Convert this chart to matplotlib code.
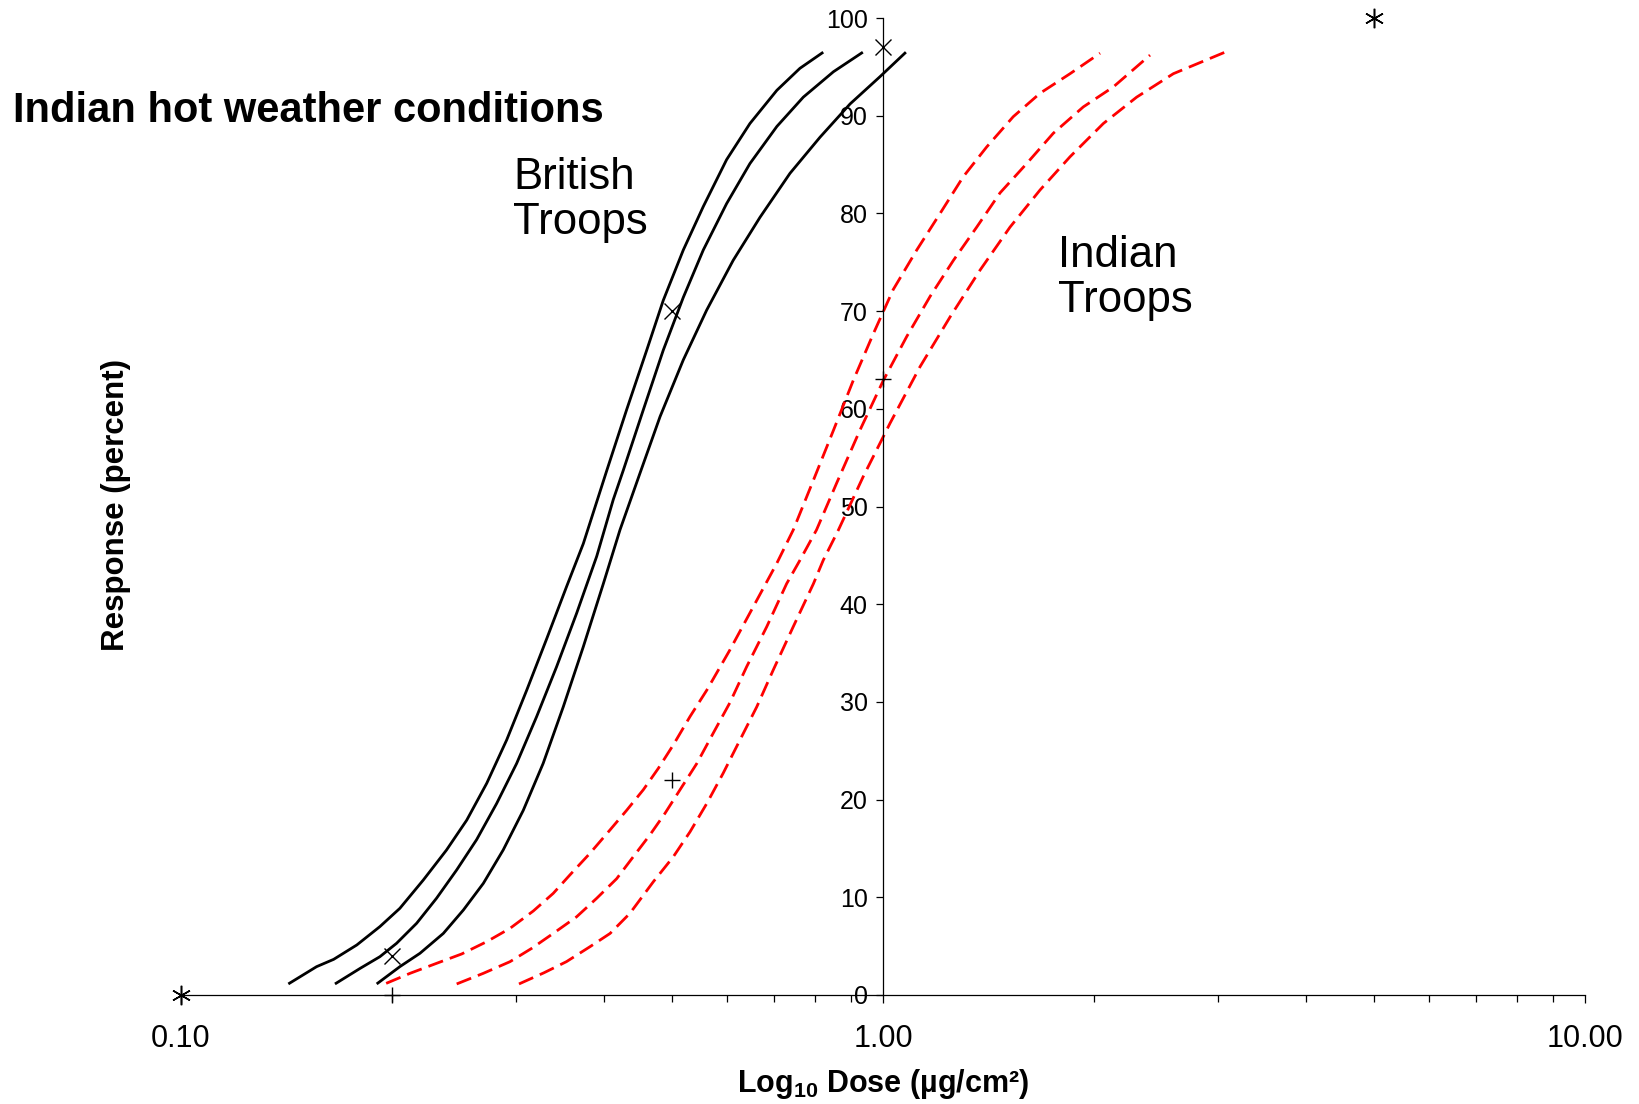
import matplotlib
matplotlib.use('Agg')
import matplotlib.pyplot as plt
from matplotlib.ticker import FixedLocator, NullFormatter, LogLocator

plt.rcParams['font.family'] = ['Liberation Sans', 'DejaVu Sans']
plt.rcParams['mathtext.fontset'] = 'custom'
plt.rcParams['mathtext.rm'] = 'Liberation Sans'
plt.rcParams['mathtext.bf'] = 'Liberation Sans:bold'

# British troops - three fitted curves
brit_lo_x = [0.1422, 0.156, 0.165, 0.178, 0.192, 0.205, 0.2214, 0.2389, 0.2553, 0.2726, 0.291,
             0.3108, 0.332, 0.3542, 0.3742, 0.4042, 0.4313, 0.4607, 0.4864, 0.5194, 0.5546,
             0.5987, 0.6463, 0.706, 0.7615, 0.822]
brit_lo_y = [1.13, 2.9, 3.65, 5.12, 7.0, 8.87, 11.77, 14.84, 17.9, 21.67, 26.1,
             31.2, 36.5, 41.8, 46.2, 53.7, 59.9, 66.0, 71.1, 76.25, 80.7,
             85.5, 89.2, 92.6, 94.85, 96.5]
brit_mid_x = [0.1657, 0.18, 0.192, 0.2028, 0.2166, 0.2312, 0.247, 0.2637, 0.2816, 0.3007, 0.3211,
              0.3428, 0.3662, 0.391, 0.4128, 0.4266, 0.4556, 0.4864, 0.5194, 0.5546, 0.5987,
              0.6463, 0.706, 0.77, 0.85, 0.936]
brit_mid_y = [1.13, 2.73, 3.92, 5.29, 7.34, 9.9, 12.8, 15.9, 19.6, 23.7, 28.5,
              33.6, 39.1, 44.9, 50.7, 53.7, 59.9, 66.0, 71.4, 76.25, 81.0,
              85.1, 88.9, 91.9, 94.5, 96.5]
brit_hi_x = [0.19, 0.205, 0.219, 0.2364, 0.2525, 0.2696, 0.2877, 0.3073, 0.328, 0.3504, 0.3742,
             0.3996, 0.422, 0.4506, 0.4813, 0.5194, 0.5608, 0.6118, 0.668, 0.737, 0.8134,
             0.8975, 0.990, 1.078]
brit_hi_y = [1.13, 2.9, 4.27, 6.3, 8.7, 11.43, 14.84, 18.9, 23.7, 29.5, 35.65,
             42.1, 47.6, 53.4, 59.2, 65.0, 70.1, 75.2, 79.6, 84.1, 87.8,
             91.2, 93.99, 96.5]

# Indian troops - three fitted curves
ind_lo_x = [0.196, 0.212, 0.2312, 0.2511, 0.2726, 0.2942, 0.3176, 0.339, 0.358, 0.3824, 0.4085,
            0.4313, 0.4555, 0.4786, 0.5027, 0.531, 0.561, 0.605, 0.653, 0.706, 0.745,
            0.796, 0.85, 0.907, 0.969, 1.034, 1.117, 1.206, 1.301, 1.405, 1.533,
            1.674, 1.847, 2.038]
ind_lo_y = [1.19, 2.22, 3.24, 4.2, 5.46, 6.82, 8.6, 10.4, 12.28, 14.5, 16.9,
            18.9, 21.0, 23.2, 25.6, 28.5, 31.2, 35.3, 39.7, 44.2, 47.6,
            52.7, 57.8, 62.9, 67.7, 72.2, 76.25, 80.0, 83.75, 86.8, 89.9,
            92.3, 94.3, 96.4]
ind_mid_x = [0.247, 0.2696, 0.2942, 0.316, 0.339, 0.366, 0.391, 0.4174, 0.4408, 0.4657, 0.4892,
             0.5138, 0.543, 0.573, 0.605, 0.6394, 0.683, 0.729, 0.7615, 0.804, 0.859,
             0.927, 1.001, 1.081, 1.167, 1.26, 1.36, 1.468, 1.602, 1.748, 1.929,
             2.129, 2.401]
ind_mid_y = [1.13, 2.22, 3.41, 4.78, 6.3, 8.0, 9.9, 11.9, 14.15, 16.4, 18.6,
             21.0, 23.7, 26.8, 29.9, 33.6, 37.7, 42.1, 44.5, 47.6, 52.4,
             57.8, 62.9, 67.4, 71.5, 75.2, 78.6, 82.1, 85.1, 88.2, 90.9,
             92.95, 96.2]
ind_hi_x = [0.303, 0.329, 0.354, 0.3824, 0.4085, 0.436, 0.4709, 0.5027, 0.531, 0.561, 0.592,
            0.6255, 0.661, 0.698, 0.745, 0.796, 0.822, 0.864, 0.937, 1.023, 1.129,
            1.246, 1.375, 1.517, 1.674, 1.847, 2.06, 2.298, 2.592, 3.07]
ind_hi_y = [1.13, 2.28, 3.41, 4.94, 6.3, 8.36, 11.6, 14.15, 16.7, 19.6, 22.7,
            26.1, 29.5, 33.3, 37.7, 42.1, 44.5, 47.6, 53.05, 58.5, 64.3,
            69.4, 74.2, 78.6, 82.4, 85.8, 89.2, 91.9, 94.3, 96.5]

# observed points
star_x = [0.1, 5.0]
star_y = [0, 100]
cross_x = [0.2, 0.5, 1.0]
cross_y = [4, 70, 97]
plus_x = [0.2, 0.5, 1.0]
plus_y = [0, 22, 63]

fig = plt.figure(figsize=(16.4, 11.04), dpi=100)
ax = fig.add_axes([181 / 1640, 1 - 995 / 1104, (1585 - 181) / 1640, (995 - 18) / 1104])

for xs, ys in [(brit_lo_x, brit_lo_y), (brit_mid_x, brit_mid_y), (brit_hi_x, brit_hi_y)]:
    ax.plot(xs, ys, color='black', lw=2.0, solid_capstyle='butt', solid_joinstyle='round')

for xs, ys in [(ind_lo_x, ind_lo_y), (ind_mid_x, ind_mid_y), (ind_hi_x, ind_hi_y)]:
    ax.plot(xs, ys, color='#ff0000', lw=2.0, dashes=(5.6, 2.6))

ax.plot(star_x, star_y, ls='none', marker=(6, 2, 0), ms=14, mew=1.1, color='black', clip_on=False)
ax.plot(cross_x, cross_y, ls='none', marker='x', ms=12, mew=1.0, color='black', clip_on=False)
ax.plot(plus_x, plus_y, ls='none', marker='+', ms=12, mew=1.0, color='black', clip_on=False)

ax.set_xscale('log')
ax.set_xlim(0.1, 10)
ax.set_ylim(0, 100)

ax.spines['top'].set_visible(False)
ax.spines['right'].set_visible(False)
ax.spines['left'].set_position(('data', 1.0))
ax.spines['left'].set_linewidth(0.9)
ax.spines['bottom'].set_linewidth(0.9)

ax.xaxis.set_major_locator(FixedLocator([0.1, 1, 10]))
ax.set_xticklabels(['0.10', '1.00', '10.00'])
ax.xaxis.set_minor_locator(LogLocator(base=10, subs=range(2, 10)))
ax.xaxis.set_minor_formatter(NullFormatter())
ax.tick_params(axis='x', which='major', direction='out', length=6, width=0.9, pad=15, labelsize=22)
ax.tick_params(axis='x', which='minor', direction='out', length=5, width=0.9)

ax.set_yticks(range(0, 101, 10))
ax.tick_params(axis='y', direction='out', length=5, width=0.9, pad=6, labelsize=18)

fig.text(0.008, 0.8995, 'Indian hot weather conditions', fontsize=30, fontweight='bold',
         ha='left', va='center')
fig.text(513 / 1640, 1 - 200 / 1104, 'British\nTroops', fontsize=31.5, ha='left', va='center',
         linespacing=1.15)
fig.text(1058 / 1640, 1 - 278 / 1104, 'Indian\nTroops', fontsize=31.5, ha='left', va='center',
         linespacing=1.15)
fig.text(116 / 1640, 1 - 505 / 1104, 'Response (percent)', fontsize=22.5, fontweight='bold',
         rotation=90, ha='center', va='center')
fig.text(883 / 1640, 1 - 1084 / 1104, r'Log$_{\mathbf{10}}$ Dose (µg/cm²)', fontsize=22,
         fontweight='bold', ha='center', va='center')

fig.savefig('out.png', dpi=100)
